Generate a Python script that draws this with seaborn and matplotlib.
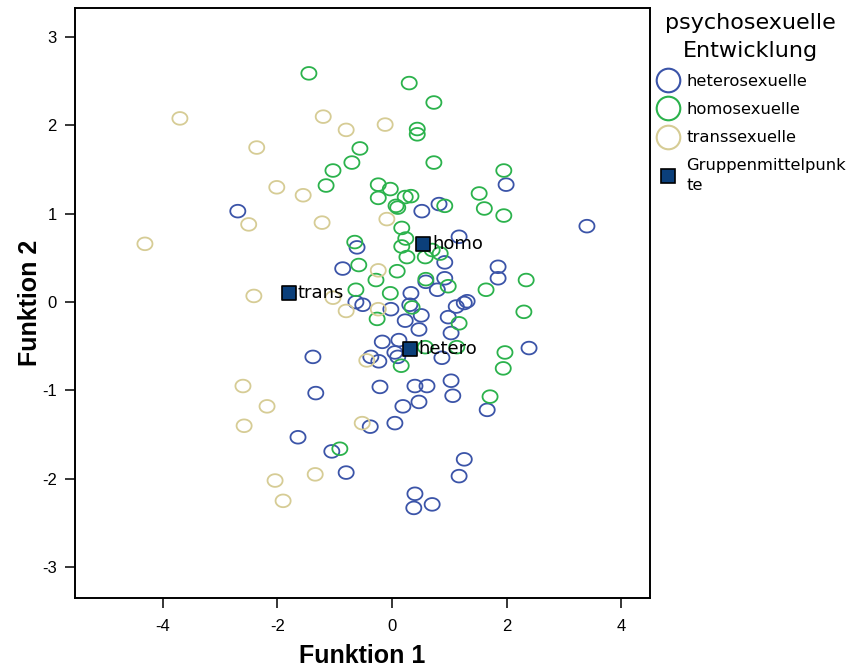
import numpy as np
import pandas as pd
import matplotlib
matplotlib.use("Agg")
import matplotlib.pyplot as plt
from matplotlib.path import Path
from matplotlib.lines import Line2D
import seaborn as sns

# ---------------- data ----------------
group_names = ["heterosexuelle", "homosexuelle", "transsexuelle"]
group_colors = ["#3b54a8", "#2bb24c", "#d6cc95"]

hetero_x = [-2.69, -0.86, -0.61, 1.99, 0.82, 0.52, 3.40, 1.17, 0.92, 1.85, 1.85, 0.92,
            0.59, 0.79, 0.33, 1.12, 1.26, 1.31, 0.98, 1.03, 0.87, 2.39, -0.51, -0.02,
            0.31, 0.51, 0.23, 0.47, -0.17, 0.12, 0.05, 0.10, -0.37, -0.23, -0.21, 0.40,
            0.61, 1.03, 1.06, 0.19, 0.47, 1.66, 0.05, -0.38, 1.26, 1.17, 0.40, 0.38,
            0.70, -0.63, -1.38, -1.33, -1.64, -1.05, -0.80]
hetero_y = [1.03, 0.38, 0.62, 1.33, 1.11, 1.03, 0.86, 0.74, 0.45, 0.40, 0.27, 0.27,
            0.23, 0.14, 0.10, -0.05, -0.01, 0.01, -0.17, -0.35, -0.63, -0.52, -0.03, -0.08,
            -0.03, -0.15, -0.21, -0.31, -0.45, -0.43, -0.57, -0.62, -0.62, -0.67, -0.96, -0.95,
            -0.95, -0.89, -1.06, -1.18, -1.13, -1.22, -1.37, -1.41, -1.78, -1.97, -2.17, -2.33,
            -2.29, 0.00, -0.62, -1.03, -1.53, -1.69, -1.93]

homo_x = [-1.45, -0.56, -0.70, -1.03, -1.15, -0.65, -0.58, -0.63, 0.30, 0.73, 0.44, 0.44,
          0.73, 1.95, -0.24, -0.03, -0.24, 0.23, 0.33, 0.07, 0.10, 0.92, 1.52, 1.61,
          1.95, 0.17, 0.24, 0.17, 0.26, 0.58, 0.70, 0.84, 0.09, -0.28, -0.03, 0.59,
          0.98, 1.64, 2.34, 2.30, 1.17, 1.13, 1.97, 1.94, 0.35, -0.26, 0.58, 0.16,
          1.71, -0.91]
homo_y = [2.59, 1.74, 1.58, 1.49, 1.32, 0.68, 0.42, 0.14, 2.48, 2.26, 1.96, 1.90,
          1.58, 1.49, 1.33, 1.28, 1.18, 1.19, 1.20, 1.09, 1.07, 1.09, 1.23, 1.06,
          0.98, 0.84, 0.72, 0.63, 0.51, 0.51, 0.59, 0.55, 0.35, 0.25, 0.10, 0.26,
          0.18, 0.14, 0.25, -0.11, -0.24, -0.51, -0.57, -0.75, -0.06, -0.19, -0.51, -0.72,
          -1.07, -1.66]

trans_x = [-3.70, -4.31, -2.36, -2.01, -2.50, -1.20, -0.80, -0.12, -1.55, -1.22, -0.09, -2.41,
           -1.03, -0.80, -0.24, -0.24, -0.44, -0.52, -2.60, -2.18, -2.58, -2.04, -1.90, -1.34]
trans_y = [2.08, 0.66, 1.75, 1.30, 0.88, 2.10, 1.95, 2.01, 1.21, 0.90, 0.94, 0.07,
           0.05, -0.10, 0.36, -0.08, -0.66, -1.37, -0.95, -1.18, -1.40, -2.02, -2.25, -1.95]

centroid_labels = ["hetero", "homo", "trans"]
centroid_x = [0.31, 0.54, -1.80]
centroid_y = [-0.53, 0.66, 0.10]

x_ticks = [-4, -2, 0, 2, 4]
y_ticks = [-3, -2, -1, 0, 1, 2, 3]

x_label = "Funktion 1"
y_label = "Funktion 2"
legend_title = "psychosexuelle\nEntwicklung"
centroid_legend = "Gruppenmittelpunk\nte"

# ---------------- build table ----------------
df = pd.concat([
    pd.DataFrame({"F1": hetero_x, "F2": hetero_y, "Gruppe": group_names[0]}),
    pd.DataFrame({"F1": homo_x, "F2": homo_y, "Gruppe": group_names[1]}),
    pd.DataFrame({"F1": trans_x, "F2": trans_y, "Gruppe": group_names[2]}),
], ignore_index=True)
cent = pd.DataFrame({"F1": centroid_x, "F2": centroid_y, "lab": centroid_labels})

sns.set_theme(style="white")
plt.rcParams["font.family"] = ["DejaVu Sans"]
plt.rcParams["text.color"] = "black"
plt.rcParams["axes.labelcolor"] = "black"
plt.rcParams["xtick.color"] = "black"
plt.rcParams["ytick.color"] = "black"
arial = ["Liberation Sans", "DejaVu Sans"]

fig = plt.figure(figsize=(8.47, 6.68), dpi=100)
ax = fig.add_axes([75 / 847, 1 - 598 / 668, (650 - 75) / 847, (598 - 8) / 668])

# ellipse marker (slightly wider than tall)
t = np.linspace(0, 2 * np.pi, 60)
ell = Path(np.column_stack([1.0 * np.cos(t), 0.84 * np.sin(t)]), closed=True)

sns.scatterplot(data=df, x="F1", y="F2", hue="Gruppe", hue_order=group_names,
                palette=group_colors, marker=ell, s=118, linewidth=1.3,
                legend=False, ax=ax, zorder=3)
coll = ax.collections[0]
fc = coll.get_facecolors()
coll.set_edgecolors(fc)
coll.set_facecolors("none")

sns.scatterplot(data=cent, x="F1", y="F2", marker="s", color="#0b3f7a",
                edgecolor="black", linewidth=1.2, s=95, legend=False, ax=ax, zorder=5)
for _, r in cent.iterrows():
    ax.annotate(r["lab"], (r["F1"], r["F2"]), xytext=(6.5, 0), textcoords="offset points",
                ha="left", va="center", fontsize=13, color="black", zorder=6)

ax.set_xlim(-5.53, 4.50)
ax.set_ylim(-3.35, 3.33)
ax.set_xticks(x_ticks)
ax.set_yticks(y_ticks)
ax.set_xticklabels([str(v) for v in x_ticks], family=arial, fontsize=12)
ax.set_yticklabels([str(v) for v in y_ticks], family=arial, fontsize=12)
ax.tick_params(axis="x", which="both", direction="out", length=7, width=1.1,
               color="black", bottom=True, top=False, pad=8)
ax.tick_params(axis="y", which="both", direction="out", length=7, width=1.1,
               color="black", left=True, right=False, pad=6)
for sp in ax.spines.values():
    sp.set_visible(True)
    sp.set_color("black")
    sp.set_linewidth(1.4)
ax.set_xlabel(x_label, family=arial, fontsize=18, fontweight="bold", labelpad=7)
ax.set_ylabel(y_label, family=arial, fontsize=18, fontweight="bold", labelpad=0)

handles = [Line2D([], [], linestyle="none", marker="o", markersize=17,
                  markerfacecolor="none", markeredgecolor=c, markeredgewidth=1.5)
           for c in group_colors]
handles.append(Line2D([], [], linestyle="none", marker="s", markersize=10,
                      markerfacecolor="#0b3f7a", markeredgecolor="black",
                      markeredgewidth=1.2))
leg = fig.legend(handles, group_names + [centroid_legend], title=legend_title,
                 loc="upper left", bbox_to_anchor=(650 / 847, 1 - 8 / 668),
                 frameon=False, fontsize=11.8, title_fontsize=16,
                 handletextpad=0.3, handlelength=1.6, labelspacing=0.8,
                 borderaxespad=0, borderpad=0.3)
title = leg.get_title()
title.set_multialignment("center")
title.set_linespacing(1.5)
title.set_color("black")
for txt in leg.get_texts():
    txt.set_color("black")
leg.get_texts()[-1].set_linespacing(1.4)

fig.savefig("out.png", dpi=100)
